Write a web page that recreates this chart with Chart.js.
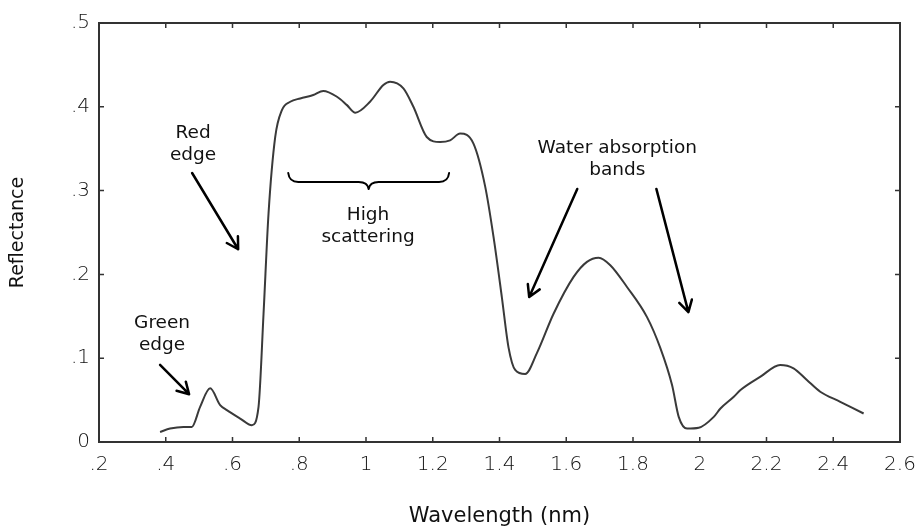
<!DOCTYPE html>
<html><head><meta charset="utf-8">
<script src="https://cdn.jsdelivr.net/npm/chart.js@4/dist/chart.umd.min.js"></script>
<style>html,body{margin:0;padding:0;background:#fff}#wrap{width:920px;height:529px}</style>
</head><body><div id="wrap"><canvas id="c" width="920" height="529"></canvas></div>
<script>
// ---- data ----
const wavelength = [0.383,0.413,0.453,0.478,0.503,0.533,0.563,0.583,0.623,0.658,0.678,0.693,0.708,0.728,0.748,0.773,0.803,0.842,0.872,0.913,0.943,0.968,1.012,1.052,1.072,1.112,1.142,1.182,1.222,1.252,1.282,1.322,1.357,1.382,1.407,1.427,1.447,1.477,1.512,1.562,1.622,1.662,1.697,1.732,1.782,1.842,1.882,1.917,1.937,1.962,1.997,2.042,2.062,2.102,2.122,2.182,2.241,2.281,2.321,2.361,2.421,2.491];
const reflectance = [0.012,0.016,0.018,0.018,0.042,0.064,0.044,0.038,0.028,0.020,0.042,0.153,0.273,0.364,0.396,0.406,0.410,0.414,0.419,0.412,0.402,0.393,0.406,0.426,0.430,0.422,0.400,0.364,0.358,0.360,0.368,0.356,0.305,0.245,0.173,0.113,0.086,0.081,0.106,0.153,0.197,0.215,0.220,0.211,0.185,0.149,0.112,0.068,0.030,0.016,0.017,0.030,0.040,0.054,0.062,0.078,0.092,0.088,0.074,0.060,0.048,0.034];
const xTickLabels = ['.2','.4','.6','.8','1','1.2','1.4','1.6','1.8','2','2.2','2.4','2.6'];
const yTickLabels = ['0','.1','.2','.3','.4','.5'];
const xTitle = 'Wavelength (nm)';
const yTitle = 'Reflectance';
// annotation texts anchored in data coordinates
const labelTexts = [
  {lines:['Red','edge'], x:0.482, y:0.369},
  {lines:['Green','edge'], x:0.389, y:0.142},
  {lines:['High','scattering'], x:1.006, y:0.271},
  {lines:['Water absorption','bands'], x:1.753, y:0.351}
];
const arrowFrom = [[0.479,0.321],[0.383,0.092],[1.633,0.302],[1.870,0.302]];
const arrowTo   = [[0.617,0.230],[0.470,0.057],[1.489,0.173],[1.966,0.155]];
const braceRange = [0.767, 1.249, 0.321];

const TICK_FONT = {family:'"DejaVu Sans"', size:20, weight:'200'};
const TEXT_FONT = '18.5px "DejaVu Sans"';

const framePlugin = {
  id:'frame',
  beforeDatasetsDraw(chart){
    const {ctx, chartArea:a, scales:{x,y}} = chart;
    ctx.save();
    ctx.strokeStyle = '#333'; ctx.lineWidth = 2;
    ctx.strokeRect(a.left, a.top, a.right-a.left, a.bottom-a.top);
    ctx.lineWidth = 1.5;
    const tl = 5;
    ctx.beginPath();
    x.ticks.forEach(t=>{
      const px = x.getPixelForValue(t.value);
      ctx.moveTo(px, a.bottom); ctx.lineTo(px, a.bottom-tl);
      ctx.moveTo(px, a.top); ctx.lineTo(px, a.top+tl);
    });
    y.ticks.forEach(t=>{
      const py = y.getPixelForValue(t.value);
      ctx.moveTo(a.left, py); ctx.lineTo(a.left+tl, py);
      ctx.moveTo(a.right, py); ctx.lineTo(a.right-tl, py);
    });
    ctx.stroke();
    ctx.restore();
  }
};

const annotPlugin = {
  id:'annot',
  afterDraw(chart){
    const {ctx, scales:{x,y}} = chart;
    ctx.save();
    ctx.fillStyle = '#111';
    ctx.font = TEXT_FONT;
    ctx.textAlign = 'center'; ctx.textBaseline = 'middle';
    labelTexts.forEach(l=>{
      const px = x.getPixelForValue(l.x), py = y.getPixelForValue(l.y);
      l.lines.forEach((s,i)=>ctx.fillText(s, px, py + i*22));
    });
    ctx.strokeStyle = '#000'; ctx.lineWidth = 2.5; ctx.lineCap='round'; ctx.lineJoin='round';
    arrowFrom.forEach((f,i)=>{
      const t = arrowTo[i];
      const x1=x.getPixelForValue(f[0]), y1=y.getPixelForValue(f[1]);
      const x2=x.getPixelForValue(t[0]), y2=y.getPixelForValue(t[1]);
      const ang = Math.atan2(y2-y1, x2-x1), L=13, sp=Math.PI/6;
      ctx.beginPath();
      ctx.moveTo(x1,y1); ctx.lineTo(x2,y2);
      ctx.moveTo(x2 - L*Math.cos(ang-sp), y2 - L*Math.sin(ang-sp));
      ctx.lineTo(x2,y2);
      ctx.lineTo(x2 - L*Math.cos(ang+sp), y2 - L*Math.sin(ang+sp));
      ctx.stroke();
    });
    // curly brace
    const bx1=x.getPixelForValue(braceRange[0]), bx2=x.getPixelForValue(braceRange[1]);
    const by=y.getPixelForValue(braceRange[2]), bm=(bx1+bx2)/2;
    ctx.lineWidth = 2;
    ctx.beginPath();
    ctx.moveTo(bx1, by);
    ctx.quadraticCurveTo(bx1+1, by+9, bx1+10, by+9);
    ctx.lineTo(bm-10, by+9);
    ctx.quadraticCurveTo(bm-1, by+9, bm, by+16);
    ctx.quadraticCurveTo(bm+1, by+9, bm+10, by+9);
    ctx.lineTo(bx2-10, by+9);
    ctx.quadraticCurveTo(bx2-1, by+9, bx2, by);
    ctx.stroke();
    ctx.restore();
  }
};

new Chart(document.getElementById('c'), {
  type:'line',
  data:{ datasets:[{
    data: wavelength.map((w,i)=>({x:w, y:reflectance[i]})),
    borderColor:'#3a3a3a', borderWidth:2, pointRadius:0, fill:false,
    cubicInterpolationMode:'monotone'
  }]},
  options:{
    responsive:false, animation:false, devicePixelRatio:1,
    layout:{padding:{left:0,right:20,top:23,bottom:0}},
    plugins:{legend:{display:false}, tooltip:{enabled:false}},
    scales:{
      x:{ type:'linear', min:0.2, max:2.6,
        afterBuildTicks(s){ s.ticks = xTickLabels.map(l=>({value:parseFloat(l)})); },
        afterFit(s){ s.height = 87; s.paddingLeft = 0; s.paddingRight = 0; },
        grid:{display:false, drawTicks:false}, border:{display:false},
        ticks:{ autoSkip:false, maxRotation:0, padding:11, color:'#111', font:TICK_FONT,
          callback:(v,i)=>xTickLabels[i] },
        title:{display:true, text:xTitle, color:'#111', font:{family:'"DejaVu Sans"', size:21}, padding:{top:0,bottom:0}}
      },
      y:{ min:0, max:0.5,
        afterBuildTicks(s){ s.ticks = yTickLabels.map(l=>({value:parseFloat(l)})); },
        afterFit(s){ s.width = 99; s.paddingTop = 0; s.paddingBottom = 0; },
        grid:{display:false, drawTicks:false}, border:{display:false},
        ticks:{ autoSkip:false, padding:9, color:'#111', font:TICK_FONT,
          callback:(v,i)=>yTickLabels[i] },
        title:{display:true, text:yTitle, color:'#111', font:{family:'"DejaVu Sans"', size:19}, padding:{top:7,bottom:0}}
      }
    }
  },
  plugins:[framePlugin, annotPlugin]
});
</script>
</body></html>
